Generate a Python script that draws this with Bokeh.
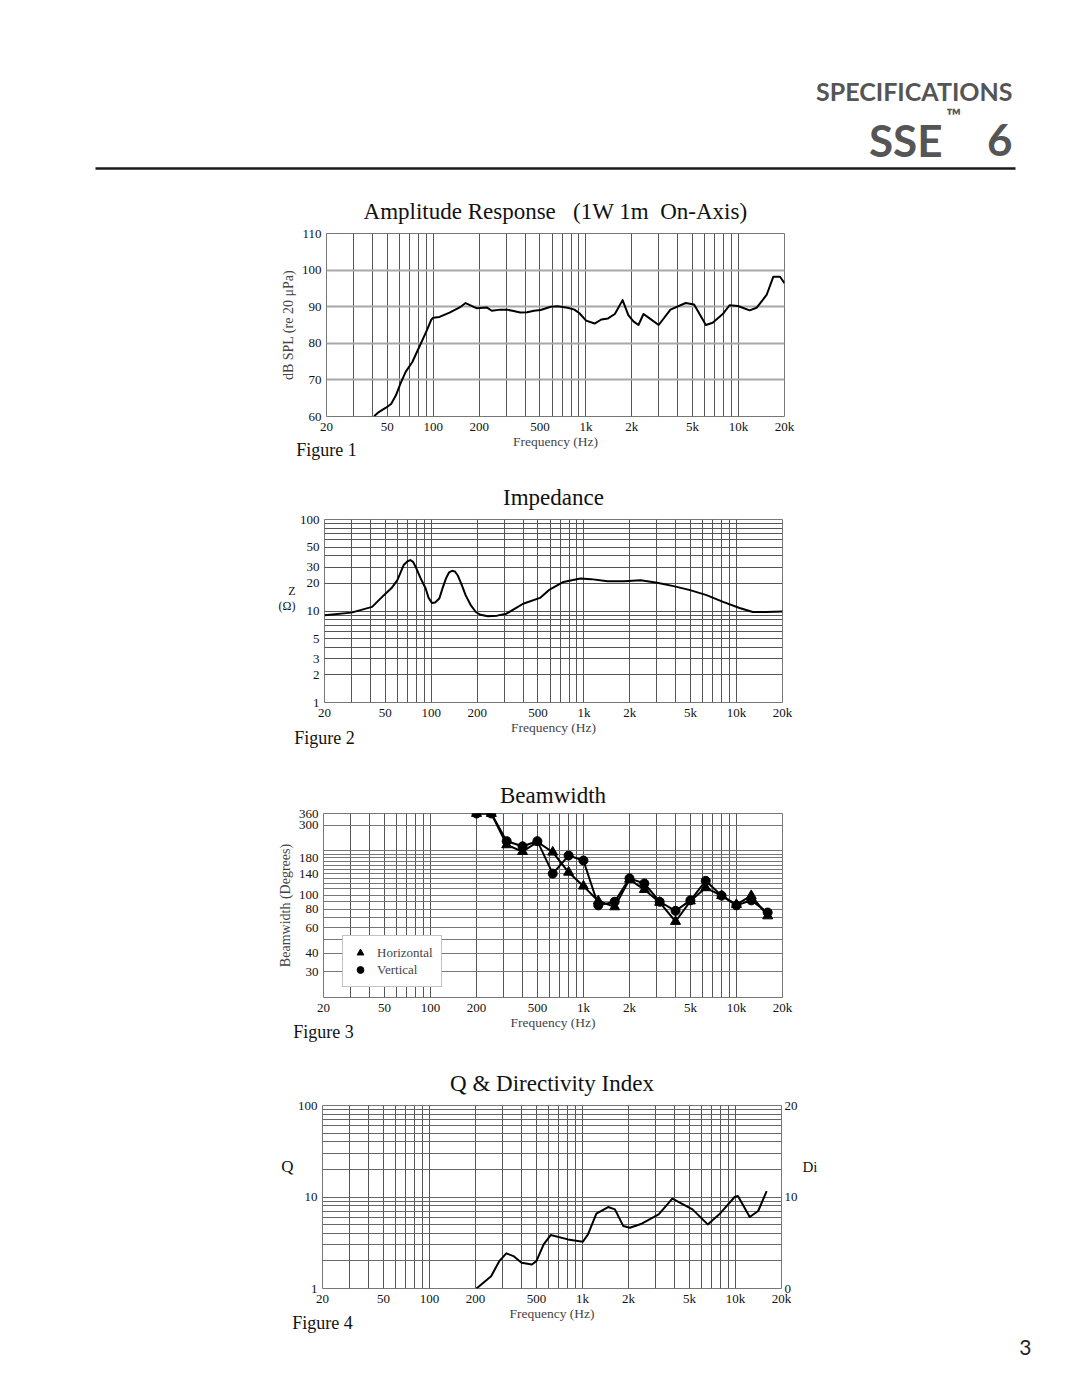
from bokeh.plotting import figure
from bokeh.models import (Range1d, FixedTicker, LinearAxis, LogAxis, LinearScale, Legend,
                          LegendItem, Title)
from bokeh.embed import file_html
from bokeh.resources import INLINE
from bokeh.core.properties import value

# ---------------- data ----------------
x_ticks = [20, 50, 100, 200, 500, 1000, 2000, 5000, 10000, 20000]
x_tick_labels = ["20", "50", "100", "200", "500", "1k", "2k", "5k", "10k", "20k"]
x_grid = [30, 40, 50, 60, 70, 80, 90, 100, 200, 300, 400, 500, 600, 700, 800, 900,
          1000, 2000, 3000, 4000, 5000, 6000, 7000, 8000, 9000, 10000]

# Figure 1: amplitude response
amp_freq = [41, 44, 49, 53, 57, 61, 66, 73, 81, 91, 97, 100, 110, 128, 149, 163, 192, 224, 242, 275,
            304, 336, 372, 412, 457, 505, 589, 652, 759, 841, 908, 1004, 1140, 1262, 1397, 1548, 1740, 1897, 2048, 2210,
            2385, 2574, 2998, 3582, 4504, 5114, 6110, 6765, 7882, 8730, 9910, 11834, 13108, 15268, 16906, 18712, 20000]
amp_db = [60.1, 61.2, 62.4, 63.4, 65.8, 69.0, 72.2, 74.9, 79.0, 83.6, 86.4, 87.0, 87.2, 88.4, 89.8, 91.0, 89.6, 89.8, 88.9, 89.2,
          89.2, 88.8, 88.4, 88.5, 88.9, 89.1, 90.0, 90.1, 89.7, 89.2, 88.2, 86.2, 85.4, 86.5, 86.8, 88.0, 91.8, 87.7, 86.0, 85.0,
          88.0, 87.0, 85.0, 89.2, 91.0, 90.6, 85.0, 85.6, 88.0, 90.4, 90.2, 89.0, 89.7, 93.2, 98.2, 98.2, 96.4]
amp_y_ticks = [60, 70, 80, 90, 100, 110]

# Figure 2: impedance
imp_freq = [20, 30, 41, 49, 55, 60, 66, 70, 73, 76, 79, 85, 92, 96, 101, 106, 113, 119, 125, 131,
            137, 143, 149, 158, 168, 182, 196, 210, 235, 270, 311, 400, 516, 589, 734, 950, 1113, 1430, 1840, 2350,
            3020, 3870, 4960, 6360, 8160, 10470, 12770, 15580, 20000]
imp_z = [8.96, 9.6, 11.1, 14.9, 17.8, 21.7, 31.8, 35, 36, 34.5, 30.5, 23, 17.6, 14, 12.2, 12.4, 13.7, 18, 22.7, 26.5,
         27.5, 27, 24.6, 19.5, 14.9, 11.5, 9.75, 9.1, 8.74, 8.9, 9.34, 12.0, 13.9, 16.9, 20.8, 22.7, 22.3, 21.2, 21.2, 21.7,
         20.4, 18.7, 16.9, 14.9, 12.6, 10.8, 9.75, 9.75, 9.9]
imp_y_ticks = [1, 2, 3, 5, 10, 20, 30, 50, 100]
imp_y_grid = [2, 3, 4, 5, 6, 7, 8, 9, 10, 20, 30, 40, 50, 60, 70, 80, 90]

# Figure 3: beamwidth
bw_freq = [200, 250, 315, 400, 500, 630, 800, 1000, 1250, 1600, 2000, 2500, 3150, 4000, 5000, 6300, 8000, 10000, 12500, 16000]
bw_h = [360, 360, 220, 198, 230, 196, 143, 115, 91, 83, 128, 109, 89, 66, 91, 112, 99, 86, 99, 72]
bw_v = [360, 360, 233, 215, 233, 140, 186, 172, 85, 90, 130, 120, 90, 78, 92, 125, 99, 85, 92, 76]
bw_y_ticks = [30, 40, 60, 80, 100, 140, 180, 300, 360]
bw_y_grid = [30, 40, 50, 60, 70, 80, 90, 100, 110, 120, 130, 140, 150, 160, 170, 180, 190, 200, 300]

# Figure 4: Q & directivity index
q_freq = [203, 253, 286, 318, 354, 400, 467, 500, 558, 620, 803, 1006, 1087, 1233, 1472, 1630, 1850, 2040, 2440, 3150,
          3870, 5240, 6590, 7840, 9880, 10380, 12400, 14080, 16000]
q_val = [1.0, 1.36, 1.99, 2.42, 2.26, 1.91, 1.83, 1.99, 3.03, 3.84, 3.44, 3.24, 3.90, 6.57, 7.77, 7.33, 4.81, 4.61, 5.11, 6.46,
         9.59, 7.33, 5.02, 6.46, 10.0, 10.26, 6.04, 7.03, 11.6]
q_y_ticks = [1, 10, 100]
q_y_grid = [2, 3, 4, 5, 6, 7, 8, 9, 10, 20, 30, 40, 50, 60, 70, 80, 90]
di_ticks = [0, 10, 20]

# positions (in axis units) of the side captions of the axes
z_caption_at = [16.7, 11.2]        # "Z" / "(Ω)" on the impedance scale
q_caption_at = 21.5                # "Q" on the Q scale
di_caption_at = 13.3               # "Di" on the Di scale

# ---------------- styling ----------------
SERIF = "Liberation Serif"
W = 1080


def bare_axis(ax, size, standoff):
    ax.axis_line_color = None
    ax.major_tick_line_color = None
    ax.minor_tick_line_color = None
    ax.major_tick_out = 0
    ax.major_tick_in = 0
    ax.minor_tick_out = 0
    ax.major_label_text_font = SERIF
    ax.major_label_text_font_size = size
    ax.major_label_text_color = "#111111"
    ax.major_label_standoff = standoff


def make_chart(page_top, height, FL, FR, FT, FB, y_type, y_range, title, title_standoff, fig_name, cap_standoff):
    p = figure(width=W, height=height, x_axis_type="log", y_axis_type=y_type,
               x_range=Range1d(20, 20000), y_range=y_range,
               output_backend="svg", toolbar_location=None,
               min_border_left=FL, min_border_right=W - FR,
               min_border_top=FT - page_top, min_border_bottom=page_top + height - FB)
    p.background_fill_color = "white"
    p.border_fill_color = "white"
    p.outline_line_color = "#777777"
    p.outline_line_width = 1
    p.title.text = title
    p.title.align = "center"
    p.title.text_font = SERIF
    p.title.text_font_style = "normal"
    p.title.text_font_size = "23px"
    p.title.text_color = "#111111"
    p.title.standoff = title_standoff
    for ax in p.axis:
        bare_axis(ax, "13px", 5)
    p.xaxis.ticker = FixedTicker(ticks=x_ticks)
    p.xaxis.major_label_overrides = {t: l for t, l in zip(x_ticks, x_tick_labels)}
    p.xaxis.major_label_standoff = 2
    p.xaxis.axis_label = "Frequency (Hz)"
    p.xaxis.axis_label_text_font = SERIF
    p.xaxis.axis_label_text_font_style = "normal"
    p.xaxis.axis_label_text_font_size = "13.5px"
    p.xaxis.axis_label_standoff = -3
    p.xgrid.ticker = FixedTicker(ticks=x_grid)
    p.xgrid.grid_line_color = "#555555"
    p.xgrid.grid_line_width = 1
    # "Figure N" caption, placed as the label of the 20 Hz tick of a caption axis
    cap = LogAxis(ticker=FixedTicker(ticks=[20]), major_label_overrides={20: fig_name})
    bare_axis(cap, "18px", cap_standoff)
    p.add_layout(cap, "below")
    return p


# ---------------- header ----------------
HDR_H = 185
hdr = figure(width=W, height=HDR_H, x_range=Range1d(0, W), y_range=Range1d(HDR_H, 0),
             output_backend="svg", toolbar_location=None, x_axis_location=None, y_axis_location=None,
             min_border_left=0, min_border_right=0, min_border_top=0, min_border_bottom=0)
hdr.grid.visible = False
hdr.outline_line_color = None
hdr.text(x=[1012], y=[90], text=["SPECIFICATIONS"], text_font=value("Lato"), text_font_style="bold",
         text_font_size="25px", text_color="#555555", text_align="right", text_baseline="alphabetic")
hdr.text(x=[1012], y=[139], text=["6"], text_font=value("Lato"), text_font_style="bold",
         text_font_size="44px", text_color="#555555", text_align="right", text_baseline="alphabetic")
hdr.text(x=[961], y=[114], text=["\u2122"], text_font=value("Lato"), text_font_style="bold",
         text_font_size="20px", text_color="#555555", text_align="right", text_baseline="alphabetic")
hdr.text(x=[942], y=[139], text=["SSE"], text_font=value("Lato"), text_font_style="bold",
         text_font_size="44px", text_color="#555555", text_align="right", text_baseline="alphabetic")
hdr.segment(x0=[95], y0=[168], x1=[1015], y1=[168], line_width=2.5, line_color="#1a1a1a")

# ---------------- figure 1 ----------------
FL1, FR1, FT1, FB1 = 326, 784, 233, 416
p1 = make_chart(HDR_H, 470 - HDR_H, FL1, FR1, FT1, FB1, "linear", Range1d(60, 110),
                "Amplitude Response\u00a0\u00a0\u00a0(1W 1m\u00a0\u00a0On-Axis)", 20, "Figure 1", -12)
p1.yaxis.ticker = FixedTicker(ticks=amp_y_ticks)
p1.yaxis.axis_label = "dB SPL (re 20 \u03bcPa)"
p1.yaxis.axis_label_text_font = SERIF
p1.yaxis.axis_label_text_font_style = "normal"
p1.yaxis.axis_label_text_font_size = "14px"
p1.yaxis.axis_label_standoff = 3
p1.ygrid.ticker = FixedTicker(ticks=amp_y_ticks)
p1.ygrid.grid_line_color = "#a8a8a8"
p1.ygrid.grid_line_width = 2
p1.line(amp_freq, amp_db, line_color="black", line_width=2, line_join="round")

# ---------------- figure 2 ----------------
FL2, FR2, FT2, FB2 = 324, 782, 519, 702
p2 = make_chart(470, 290, FL2, FR2, FT2, FB2, "log", Range1d(1, 100), "Impedance", 20, "Figure 2", -10)
p2.yaxis.ticker = FixedTicker(ticks=imp_y_ticks)
p2.yaxis.major_label_overrides = {t: str(t) for t in imp_y_ticks}
p2.ygrid.ticker = FixedTicker(ticks=imp_y_grid)
p2.ygrid.grid_line_color = "#555555"
z_cap = LogAxis(ticker=FixedTicker(ticks=z_caption_at),
                major_label_overrides={z_caption_at[0]: "Z", z_caption_at[1]: "(\u03a9)"})
bare_axis(z_cap, "12px", 1)
p2.add_layout(z_cap, "left")
p2.line(imp_freq, imp_z, line_color="black", line_width=2, line_join="round")

# ---------------- figure 3 ----------------
FL3, FR3, FT3, FB3 = 323, 782, 813, 997
p3 = make_chart(760, 290, FL3, FR3, FT3, FB3, "log", Range1d(20, 360), "Beamwidth", 12, "Figure 3", -11)
p3.yaxis.ticker = FixedTicker(ticks=bw_y_ticks)
p3.yaxis.major_label_overrides = {t: str(t) for t in bw_y_ticks}
p3.yaxis.axis_label = "Beamwidth (Degrees)"
p3.yaxis.axis_label_text_font = SERIF
p3.yaxis.axis_label_text_font_style = "normal"
p3.yaxis.axis_label_text_font_size = "14px"
p3.yaxis.axis_label_standoff = 3
p3.ygrid.ticker = FixedTicker(ticks=bw_y_grid)
p3.ygrid.grid_line_color = "#777777"
p3.line(bw_freq, bw_h, line_color="black", line_width=2, line_join="round")
p3.line(bw_freq, bw_v, line_color="black", line_width=2, line_join="round")
r_h = p3.scatter(bw_freq, bw_h, marker="triangle", size=10, color="black")
r_v = p3.scatter(bw_freq, bw_v, marker="circle", size=9, color="black")
leg = Legend(items=[LegendItem(label="Horizontal", renderers=[r_h]),
                    LegendItem(label="Vertical", renderers=[r_v])],
             location=(19, 10), padding=8, spacing=0, margin=0,
             glyph_width=18, glyph_height=17, label_height=16, label_standoff=8,
             label_text_font=SERIF, label_text_font_size="13px",
             border_line_color="#888888", border_line_width=1,
             background_fill_color="white", background_fill_alpha=1.0)
p3.add_layout(leg)

# ---------------- figure 4 ----------------
FL4, FR4, FT4, FB4 = 322, 781, 1105, 1288
p4 = make_chart(1050, 347, FL4, FR4, FT4, FB4, "log", Range1d(1, 100), "Q & Directivity Index", 20, "Figure 4", -11)
p4.yaxis.ticker = FixedTicker(ticks=q_y_ticks)
p4.yaxis.major_label_overrides = {t: str(t) for t in q_y_ticks}
p4.ygrid.ticker = FixedTicker(ticks=q_y_grid)
p4.ygrid.grid_line_color = "#666666"
p4.extra_y_ranges = {"di": Range1d(0, 20)}
p4.extra_y_scales = {"di": LinearScale()}
di_axis = LinearAxis(y_range_name="di", ticker=FixedTicker(ticks=di_ticks))
bare_axis(di_axis, "13px", 3)
p4.add_layout(di_axis, "right")
di_cap = LinearAxis(y_range_name="di", ticker=FixedTicker(ticks=[di_caption_at]),
                    major_label_overrides={di_caption_at: "Di"})
bare_axis(di_cap, "15px", 2)
p4.add_layout(di_cap, "right")
q_cap = LogAxis(ticker=FixedTicker(ticks=[q_caption_at]), major_label_overrides={q_caption_at: "Q"})
bare_axis(q_cap, "17px", 1)
p4.add_layout(q_cap, "left")
p4.line(q_freq, q_val, line_color="black", line_width=2, line_join="round")
page_no = Title(text="3", align="right", offset=-250, standoff=4, text_font="Lato",
                text_font_style="normal", text_font_size="21px", text_color="#222222")
p4.add_layout(page_no, "below")

open("out.html", "w").write(file_html([hdr, p1, p2, p3, p4], INLINE))
